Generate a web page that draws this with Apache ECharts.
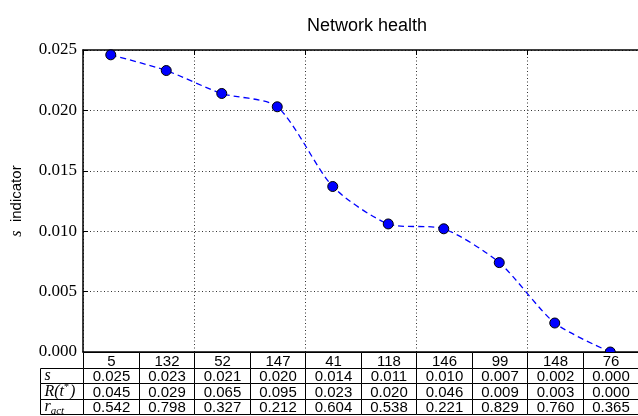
<!DOCTYPE html>
<html>
<head>
<meta charset="utf-8">
<title>Network health</title>
<script src="https://cdn.jsdelivr.net/npm/echarts@6/dist/echarts.min.js"></script>
<style>
  html, body { margin: 0; padding: 0; background: #fff; }
  #chart { width: 638px; height: 416px; }
</style>
</head>
<body>
<div id="chart"></div>
<script>
// Node ids, in plotting order
const nodeIds = ['5', '132', '52', '147', '41', '118', '146', '99', '148', '76'];
// s indicator per node
const sValues = [0.0246, 0.0233, 0.0214, 0.0203, 0.0137, 0.0106, 0.0102, 0.0074, 0.0024, 0.0000];
// R(t*) per node
const rtValues = [0.045, 0.029, 0.065, 0.095, 0.023, 0.020, 0.046, 0.009, 0.003, 0.000];
// r_act per node
const ractValues = [0.542, 0.798, 0.327, 0.212, 0.604, 0.538, 0.221, 0.829, 0.760, 0.365];
// table row keys (first row holds the node ids)
const tableRows = ['id', 's', 'rt', 'ract'];
// rich-text labels for the table row headers
const rowHeaders = {
  s: '{i|s}',
  rt: '{i|R(t}{sup|*}{i|)}',
  ract: '{i|r}{sub|act}'
};

const serif = '"Liberation Serif", "DejaVu Serif", serif';
const sans = '"Liberation Sans", "DejaVu Sans", sans-serif';
const LABEL_SPAN = 0.77; // width of the row-header column, in column units

// points sit in the middle of each column
const points = sValues.map((v, i) => [i + 0.5, v]);

// cells for the table: [leftEdge, rowIndex], text kept alongside
const cells = [];
const cellText = [];
const cellKind = [];
nodeIds.forEach((id, i) => { cells.push([i, 0]); cellText.push(id); cellKind.push('num'); });
[['s', sValues], ['rt', rtValues], ['ract', ractValues]].forEach(([key, arr]) => {
  const r = tableRows.indexOf(key);
  cells.push([-LABEL_SPAN, r]); cellText.push(rowHeaders[key]); cellKind.push('head');
  arr.forEach((v, i) => { cells.push([i, r]); cellText.push(v.toFixed(3)); cellKind.push('num'); });
});

function renderCell(params, api) {
  const left = api.value(0);
  const row = api.value(1);
  const span = cellKind[params.dataIndex] === 'head' ? LABEL_SPAN : 1;
  const p0 = api.coord([left, row]);
  const p1 = api.coord([left + span, row]);
  const h = api.size([1, 1])[1];
  const x = Math.round(p0[0]) + 0.5;
  const w = Math.round(p1[0]) - Math.round(p0[0]);
  const y = Math.round(p0[1] - h / 2) + 0.5;
  const hh = Math.round(p0[1] + h / 2) - Math.round(p0[1] - h / 2);
  const isHead = cellKind[params.dataIndex] === 'head';
  return {
    type: 'group',
    children: [
      {
        type: 'rect',
        shape: { x: x, y: y, width: w, height: hh },
        style: { fill: '#fff', stroke: '#000', lineWidth: 1 }
      },
      {
        type: 'text',
        style: isHead ? {
          text: cellText[params.dataIndex],
          x: x + 4, y: y + hh / 2,
          align: 'left', verticalAlign: 'middle',
          rich: {
            i: { fontFamily: serif, fontStyle: 'italic', fontSize: 16, fill: '#000' },
            sup: { fontFamily: serif, fontSize: 10, fill: '#000', padding: [0, 1, 8, 0] },
            sub: { fontFamily: serif, fontStyle: 'italic', fontSize: 11, fill: '#000', padding: [8, 0, 0, 0] }
          }
        } : {
          text: cellText[params.dataIndex],
          x: x + w / 2, y: y + hh / 2 + 1,
          align: 'center', verticalAlign: 'middle',
          font: '15px ' + sans, fill: '#000'
        }
      }
    ]
  };
}

const chart = echarts.init(document.getElementById('chart'), null, { renderer: 'canvas' });

chart.setOption({
  animation: false,
  backgroundColor: '#fff',
  title: {
    text: 'Network health',
    left: 362,
    textAlign: 'center',
    top: 12,
    textStyle: { fontFamily: sans, fontSize: 18, fontWeight: 'normal', color: '#000' }
  },
  grid: [
    { left: 83, top: 50, width: 558, height: 302, containLabel: false },
    { left: 83, top: 352, width: 558, height: 62, containLabel: false }
  ],
  xAxis: [
    {
      gridIndex: 0, type: 'value', min: 0, max: 10, interval: 2, position: 'bottom',
      axisLine: { show: true, lineStyle: { color: '#000', width: 1.5 } },
      axisTick: { show: false }, axisLabel: { show: false },
      splitLine: { show: true, lineStyle: { color: '#333', width: 1, type: [1, 2.5] } }
    },
    {
      gridIndex: 0, type: 'value', min: 0, max: 10, interval: 2, position: 'top',
      axisLine: { show: true, lineStyle: { color: '#000', width: 1.5 } },
      axisTick: { show: true, inside: true, length: 5, lineStyle: { color: '#000', width: 1 } },
      axisLabel: { show: false }, splitLine: { show: false }
    },
    {
      gridIndex: 1, type: 'value', min: 0, max: 10, show: false
    }
  ],
  yAxis: [
    {
      gridIndex: 0, type: 'value', min: 0, max: 0.025, interval: 0.005,
      name: '{i|s}  indicator',
      nameLocation: 'middle', nameRotate: 90, nameGap: 58,
      nameTextStyle: {
        fontFamily: sans, fontSize: 15, color: '#000',
        rich: {
          i: { fontFamily: serif, fontStyle: 'italic', fontSize: 16, color: '#000' }
        }
      },
      axisLine: { show: true, lineStyle: { color: '#000', width: 1.5 } },
      axisTick: { show: true, inside: true, length: 5, lineStyle: { color: '#000', width: 1 } },
      axisLabel: {
        margin: 6, fontFamily: serif, fontSize: 17, color: '#000',
        formatter: v => v.toFixed(3)
      },
      splitLine: { show: true, lineStyle: { color: '#333', width: 1, type: [1, 2.5] } }
    },
    {
      gridIndex: 1, type: 'category', data: tableRows, inverse: true, show: false
    }
  ],
  series: [
    {
      type: 'line',
      xAxisIndex: 0, yAxisIndex: 0,
      data: points,
      smooth: 0.25,
      symbol: 'circle', symbolSize: 10,
      itemStyle: { color: '#0000ff', borderColor: '#000', borderWidth: 1 },
      lineStyle: { color: '#0000ff', width: 1.3, type: [6, 4] },
      z: 3
    },
    {
      type: 'custom',
      xAxisIndex: 2, yAxisIndex: 1,
      data: cells,
      renderItem: renderCell,
      clip: false,
      z: 10
    }
  ]
});
</script>
</body>
</html>
